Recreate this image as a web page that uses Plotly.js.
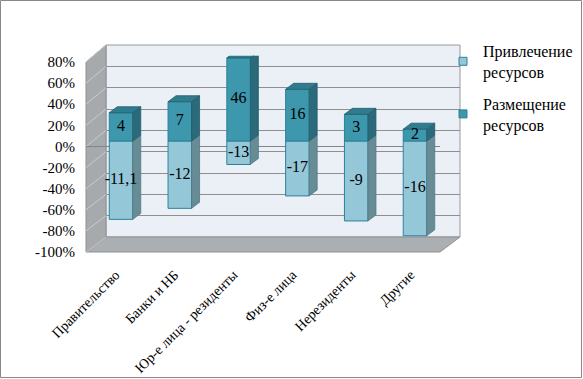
<!DOCTYPE html>
<html><head><meta charset="utf-8">
<script src="https://cdn.plot.ly/plotly-3.0.1.min.js"></script>
<style>html,body{margin:0;padding:0;background:#fff}#chart{width:583px;height:379px}</style>
</head><body><div id="chart"></div>
<script>
// ---- data ----
const categories = ["Правительство", "Банки и НБ", "Юр-е лица - резиденты", "Физ-е лица", "Нерезиденты", "Другие"];
const attraction = [-11.1, -12, -13, -17, -9, -16];   // Привлечение ресурсов
const placement  = [4, 7, 46, 16, 3, 2];               // Размещение ресурсов
const seriesNames = ["Привлечение<br>ресурсов", "Размещение<br>ресурсов"];
const yTickVals = [-100, -80, -60, -40, -20, 0, 20, 40, 60, 80];
const yTickText = ["-100%", "-80%", "-60%", "-40%", "-20%", "0%", "20%", "40%", "60%", "80%"];

// ---- 100% normalisation ----
const negPct = attraction.map((v, i) => 100 * v / (Math.abs(v) + Math.abs(placement[i])));
const posPct = placement.map((v, i) => 100 * v / (Math.abs(attraction[i]) + Math.abs(v)));
const fmt = v => String(v).replace('.', ',');

// ---- geometry helpers (pixels -> paper) ----
const W = 583, H = 379;
const PX = x => x / W, PY = y => 1 - y / H;
const F = {x0: 86, x1: 440, yTop: 62, yBot: 252};     // front plane (80% .. -100%)
const B = {x0: 106, x1: 460, yTop: 45, yBot: 237};    // back wall
const barC0 = 121, barStep = 58.8, barZero = 141, barScale = 1.066;
const barDom = {x0: barC0 - barStep / 2, x1: barC0 + barStep * 5.5,
                yTop: barZero - 80 * barScale, yBot: barZero + 100 * barScale};
const yF = v => F.yBot - (v + 100) / 180 * (F.yBot - F.yTop);
const yB = v => B.yBot - (v + 100) / 180 * (B.yBot - B.yTop);

const xi = categories.map((c, i) => i);
const bw = 0.4, dx = 8 / barStep, dy = 6 / barScale;

const cLightFront = '#94c7d8', cLightSide = '#678c96';
const cDarkFront = '#3d97ad', cDarkSide = '#2b6a7a', cDarkTop = '#2f7c8f';
const cEdge = '#2b8199';
const SERIF = 'Liberation Serif';

// 3D faces built from the data
function faces(lowArr, highArr) {
  const sx = [], sy = [], tx = [], ty = [];
  xi.forEach(i => {
    const lo = lowArr[i], hi = highArr[i], r = i + bw / 2, l = i - bw / 2;
    sx.push(r, r + dx, r + dx, r, r, null); sy.push(lo, lo + dy, hi + dy, hi, lo, null);
    tx.push(l, l + dx, r + dx, r, l, null); ty.push(hi, hi + dy, hi + dy, hi, hi, null);
  });
  return {sx, sy, tx, ty};
}
const zeros = xi.map(() => 0);
const fLight = faces(negPct, zeros);
const fDark = faces(zeros, posPct);

const traces = [
  {type: 'bar', x: xi, y: negPct, width: bw, xaxis: 'x3', yaxis: 'y3', showlegend: false, hoverinfo: 'skip',
   marker: {color: cLightFront, line: {color: cEdge, width: 1}}},
  {type: 'bar', x: xi, y: posPct, width: bw, xaxis: 'x3', yaxis: 'y3', showlegend: false, hoverinfo: 'skip',
   marker: {color: cDarkFront, line: {color: cEdge, width: 1}}},
  {type: 'scatter', mode: 'lines', x: fLight.sx, y: fLight.sy, fill: 'toself', fillcolor: cLightSide,
   line: {color: '#4f7a86', width: 0.8}, xaxis: 'x3', yaxis: 'y3', showlegend: false, hoverinfo: 'skip'},
  {type: 'scatter', mode: 'lines', x: fDark.sx, y: fDark.sy, fill: 'toself', fillcolor: cDarkSide,
   line: {color: '#245d6b', width: 0.8}, xaxis: 'x3', yaxis: 'y3', showlegend: false, hoverinfo: 'skip'},
  {type: 'scatter', mode: 'lines', x: fDark.tx, y: fDark.ty, fill: 'toself', fillcolor: cDarkTop,
   line: {color: '#245d6b', width: 0.8}, xaxis: 'x3', yaxis: 'y3', showlegend: false, hoverinfo: 'skip'},
  {type: 'scatter', mode: 'text', x: xi.concat(xi), y: negPct.map(v => v / 2).concat(posPct.map(v => v / 2)),
   text: attraction.map(fmt).concat(placement.map(fmt)), textposition: 'middle center',
   textfont: {family: SERIF, size: 16, color: '#000'},
   xaxis: 'x3', yaxis: 'y3', showlegend: false, hoverinfo: 'skip'},
  // legend entries
  {type: 'scatter', mode: 'markers', x: [null], y: [null], name: seriesNames[0], legendgroup: 'a', xaxis: 'x3', yaxis: 'y3',
   marker: {symbol: 'square', size: 8, color: cLightFront, line: {color: cEdge, width: 1}}},
  {type: 'scatter', mode: 'markers', x: [null], y: [null], name: seriesNames[1], legendgroup: 'b', xaxis: 'x3', yaxis: 'y3',
   marker: {symbol: 'square', size: 8, color: cDarkFront, line: {color: cEdge, width: 1}}},
  // dummies for wall / front-plane axes
  {type: 'scatter', mode: 'markers', x: [null], y: [null], xaxis: 'x2', yaxis: 'y2', showlegend: false, hoverinfo: 'skip'},
  {type: 'scatter', mode: 'markers', x: [null], y: [null], xaxis: 'x', yaxis: 'y', showlegend: false, hoverinfo: 'skip'}
];

const shapes = [
  // back wall
  {type: 'rect', xref: 'paper', yref: 'paper', x0: PX(B.x0), x1: PX(B.x1), y0: PY(B.yBot), y1: PY(B.yTop),
   fillcolor: '#eaf0f6', line: {color: '#9a9a9a', width: 1}, layer: 'below'},
  // side wall
  {type: 'path', xref: 'paper', yref: 'paper', layer: 'below',
   path: `M${PX(F.x0)},${PY(F.yTop)} L${PX(B.x0)},${PY(B.yTop)} L${PX(B.x0)},${PY(B.yBot)} L${PX(F.x0)},${PY(F.yBot)} Z`,
   fillcolor: '#a7aaad', line: {color: '#8e9194', width: 1}},
  // floor
  {type: 'path', xref: 'paper', yref: 'paper', layer: 'below',
   path: `M${PX(F.x0)},${PY(F.yBot)} L${PX(B.x0)},${PY(B.yBot)} L${PX(B.x1)},${PY(B.yBot)} L${PX(F.x1)},${PY(F.yBot)} Z`,
   fillcolor: '#acafb2', line: {color: '#8e9194', width: 1}},
  // chart border
  {type: 'rect', xref: 'paper', yref: 'paper', x0: PX(0.5), x1: PX(581.5), y0: PY(377.5), y1: PY(0.5),
   line: {color: '#888888', width: 1}, layer: 'below'}
];
// diagonal grid lines on side wall
yTickVals.forEach(v => {
  shapes.push({type: 'line', xref: 'paper', yref: 'paper', layer: 'below',
    x0: PX(F.x0), y0: PY(yF(v)), x1: PX(B.x0), y1: PY(yB(v)), line: {color: '#c9cbcd', width: 1}});
});

const layout = {
  width: W, height: H, margin: {l: 0, r: 0, t: 0, b: 0},
  paper_bgcolor: '#fff', plot_bgcolor: 'rgba(0,0,0,0)',
  barmode: 'relative', showlegend: true,
  font: {family: SERIF, size: 15, color: '#000'},
  legend: {x: PX(443), y: PY(34), xanchor: 'left', yanchor: 'top', font: {family: SERIF, size: 16, color: '#000'},
           bgcolor: 'rgba(0,0,0,0)', traceorder: 'grouped', tracegroupgap: 8, itemwidth: 30},
  // back wall axes
  xaxis: {domain: [PX(B.x0), PX(B.x1)], range: [0, 1], showgrid: false, zeroline: false, showticklabels: false, fixedrange: true},
  yaxis: {domain: [PY(B.yBot), PY(B.yTop)], range: [-100, 80], tickvals: yTickVals, showgrid: true, gridcolor: '#8f8f8f',
          gridwidth: 1, zeroline: false, showticklabels: false, fixedrange: true},
  // front plane axes (labels)
  xaxis2: {domain: [PX(F.x0), PX(F.x1)], range: [-0.5, 5.5], anchor: 'y2', tickvals: xi, ticktext: categories,
           tickangle: -45, tickfont: {family: SERIF, size: 14, color: '#000'}, showgrid: false, zeroline: false,
           ticks: '', ticklabelstandoff: 11, fixedrange: true},
  yaxis2: {domain: [PY(F.yBot), PY(F.yTop)], range: [-100, 80], anchor: 'x2', tickvals: yTickVals, ticktext: yTickText,
           tickfont: {family: SERIF, size: 15, color: '#000'}, showgrid: false, zeroline: true, zerolinecolor: '#858585',
           zerolinewidth: 1.5, ticks: '', ticklabelstandoff: 10, fixedrange: true},
  // bars
  xaxis3: {domain: [PX(barDom.x0), PX(barDom.x1)], range: [-0.5, 5.5], anchor: 'y3', visible: false, fixedrange: true},
  yaxis3: {domain: [PY(barDom.yBot), PY(barDom.yTop)], range: [-100, 80], anchor: 'x3', visible: false, fixedrange: true},
  shapes: shapes
};

Plotly.newPlot('chart', traces, layout, {displayModeBar: false, staticPlot: true});
</script></body></html>
